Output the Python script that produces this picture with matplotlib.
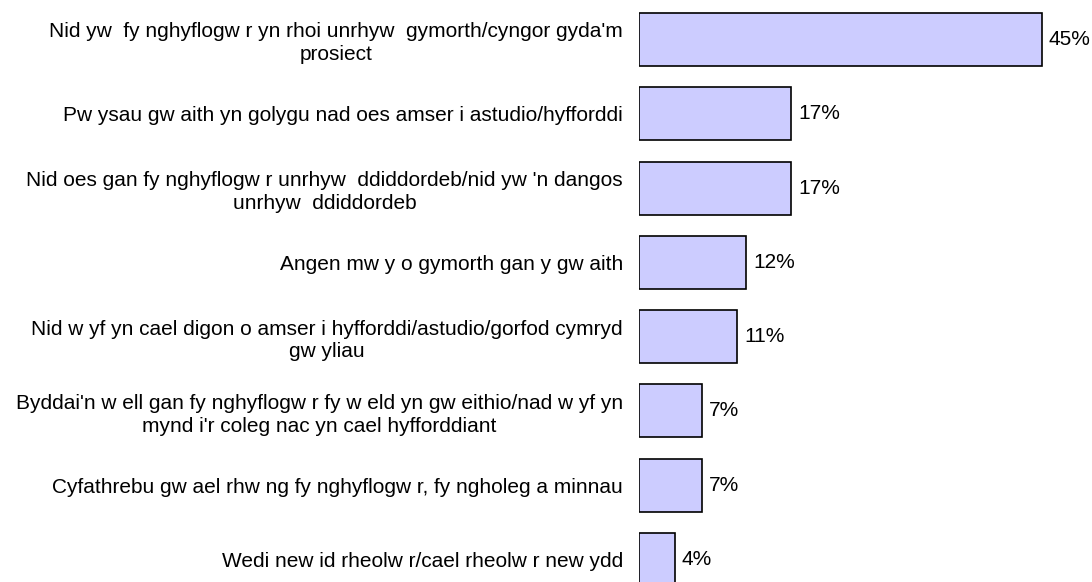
import matplotlib
matplotlib.use('Agg')
import matplotlib.pyplot as plt

# ==================== data ====================

categories = [
    "Nid yw  fy nghyflogw r yn rhoi unrhyw  gymorth/cyngor gyda'm\nprosiect",
    "Pw ysau gw aith yn golygu nad oes amser i astudio/hyfforddi",
    "Nid oes gan fy nghyflogw r unrhyw  ddiddordeb/nid yw 'n dangos\nunrhyw  ddiddordeb",
    "Angen mw y o gymorth gan y gw aith",
    "Nid w yf yn cael digon o amser i hyfforddi/astudio/gorfod cymryd\ngw yliau",
    "Byddai'n w ell gan fy nghyflogw r fy w eld yn gw eithio/nad w yf yn\nmynd i'r coleg nac yn cael hyfforddiant",
    "Cyfathrebu gw ael rhw ng fy nghyflogw r, fy ngholeg a minnau",
    "Wedi new id rheolw r/cael rheolw r new ydd",
]
percentages = [45, 17, 17, 12, 11, 7, 7, 4]
value_labels = ["45%", "17%", "17%", "12%", "11%", "7%", "7%", "4%"]

# ==================== plot ====================

plt.rcParams['font.family'] = ['Liberation Sans', 'DejaVu Sans']

fig = plt.figure(figsize=(10.92, 5.82), dpi=100)
# axes runs past the bottom edge: last bar is cut off in the original
ax = fig.add_axes([0.5852, -0.0253, 0.4098, 1.0213])

y = list(range(len(categories)))
bars = ax.barh(y, percentages, height=0.713, color='#CCCCFF',
               edgecolor='black', linewidth=1.2)

for b, lab in zip(bars, value_labels):
    ax.annotate(lab, xy=(b.get_width(), b.get_y() + b.get_height() / 2),
                xytext=(5, 0), textcoords='offset points',
                ha='left', va='center', fontsize=15)

ax.set_xlim(0, 50)
ax.set_ylim(len(categories) - 0.5, -0.5)
ax.set_yticks(y)
ax.set_yticklabels(categories, fontsize=15, linespacing=1.25)
for t in ax.get_yticklabels():
    t.set_multialignment('center')
ax.tick_params(axis='y', length=0, pad=11.5)
ax.set_xticks([])
for s in ax.spines.values():
    s.set_visible(False)

fig.savefig('out.png', dpi=100)
